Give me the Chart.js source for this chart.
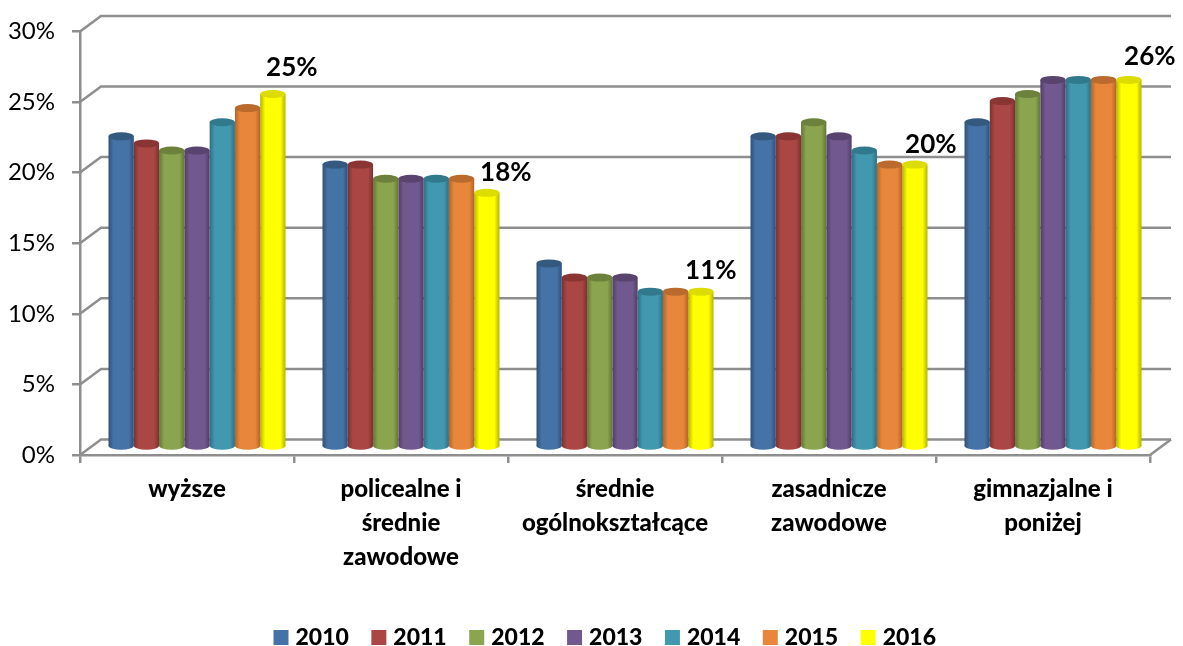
<!DOCTYPE html>
<html lang="pl">
<head>
    <meta charset="UTF-8">
    <title>Wykres</title>
    <script src="https://cdn.jsdelivr.net/npm/chart.js"></script>
    <style>
        html, body { margin: 0; background: #fff; }
        canvas { display: block; }
    </style>
</head>
<body>
    <canvas id="chart" width="1183" height="646"></canvas>
    <script>
        const categories = [
            'wyższe',
            ['policealne i', 'średnie', 'zawodowe'],
            ['średnie', 'ogólnokształcące'],
            ['zasadnicze', 'zawodowe'],
            ['gimnazjalne i', 'poniżej']
        ];
        const years = ['2010', '2011', '2012', '2013', '2014', '2015', '2016'];
        const v2010 = [22, 20, 13, 22, 23];
        const v2011 = [21.5, 20, 12, 22, 24.5];
        const v2012 = [21, 19, 12, 23, 25];
        const v2013 = [21, 19, 12, 22, 26];
        const v2014 = [23, 19, 11, 21, 26];
        const v2015 = [24, 19, 11, 20, 26];
        const v2016 = [25, 18, 11, 20, 26];
        const seriesValues = [v2010, v2011, v2012, v2013, v2014, v2015, v2016];

        const colors = ['#4573A7', '#AA4644', '#8BA54E', '#71588F', '#4198AF', '#E8873C', '#FFFF00'];
        const edgeColors = ['#2F5078', '#7A3230', '#627538', '#4F3D66', '#2E6F82', '#B4632A', '#B4B400'];
        const capColors = ['#34597F', '#8A3533', '#6C823C', '#59436F', '#317A8E', '#B96A2C', '#DCDC00'];

        const GREY = '#8E8E8E';
        const CAT_PCT = 0.827;
        const DEPTH_X = 21, DEPTH_Y = 15.5;
        const BAR_DX = 10, BAR_DY = -8;
        const FONT = 'Lato, Carlito, sans-serif';
        // the labels on the 2016 bars were placed by hand in the original
        const labelShiftX = [19, 19, 10, 16, 21];
        const labelShiftY = [-26, -20, -21, -20, -23];

        function barGradient(ctx) {
            const i = ctx.datasetIndex;
            if (ctx.type !== 'data') return colors[i];
            const scale = ctx.chart.scales.x;
            const band = scale.width / categories.length;
            const w = band * CAT_PCT / years.length;
            const left = scale.getPixelForTick(ctx.dataIndex) - band * CAT_PCT / 2 + i * w;
            const g = ctx.chart.ctx.createLinearGradient(left, 0, left + w, 0);
            g.addColorStop(0, edgeColors[i]);
            g.addColorStop(0.2, colors[i]);
            g.addColorStop(0.8, colors[i]);
            g.addColorStop(1, edgeColors[i]);
            return g;
        }

        const cylinderPlugin = {
            id: 'cylinder',
            afterLayout(chart) {
                // legend is centred under the plot, not under the whole canvas
                chart.legend.left = 64;
            },
            beforeDatasetsDraw(chart) {
                const c = chart.ctx, y = chart.scales.y, a = chart.chartArea;
                c.save();
                c.strokeStyle = GREY;
                c.lineWidth = 2.5;
                y.ticks.forEach(t => {
                    const py = y.getPixelForValue(t.value);
                    c.beginPath();
                    c.moveTo(a.left, py);
                    c.lineTo(a.left + DEPTH_X, py - DEPTH_Y);
                    c.lineTo(a.right + DEPTH_X, py - DEPTH_Y);
                    c.stroke();
                });
                // right edge of the floor
                c.beginPath();
                c.moveTo(a.right, a.bottom);
                c.lineTo(a.right + DEPTH_X, a.bottom - DEPTH_Y);
                c.stroke();
                c.restore();
                c.save();
                c.translate(BAR_DX, BAR_DY);
            },
            afterDatasetsDraw(chart) {
                const c = chart.ctx;
                chart.data.datasets.forEach((ds, i) => {
                    chart.getDatasetMeta(i).data.forEach(bar => {
                        const rx = bar.width / 2;
                        c.fillStyle = bar.options.backgroundColor;
                        c.beginPath();
                        c.ellipse(bar.x, bar.base, rx, 4, 0, 0, Math.PI * 2);
                        c.fill();
                        c.fillStyle = capColors[i];
                        c.beginPath();
                        c.ellipse(bar.x, bar.y, rx, 4, 0, 0, Math.PI * 2);
                        c.fill();
                    });
                });
                c.restore();
                // only the last year gets a value label
                const last = chart.data.datasets.length - 1;
                c.save();
                c.font = 'bold 26px ' + FONT;
                c.fillStyle = '#000';
                c.textAlign = 'center';
                c.textBaseline = 'middle';
                chart.getDatasetMeta(last).data.forEach((bar, j) => {
                    c.fillText(v2016[j] + '%', bar.x + BAR_DX + labelShiftX[j], bar.y + BAR_DY + labelShiftY[j]);
                });
                c.restore();
            }
        };

        new Chart(document.getElementById('chart'), {
            type: 'bar',
            data: {
                labels: categories,
                datasets: years.map((year, i) => ({
                    label: year,
                    data: seriesValues[i],
                    backgroundColor: barGradient
                }))
            },
            options: {
                responsive: false,
                animation: false,
                categoryPercentage: CAT_PCT,
                barPercentage: 1,
                layout: { padding: { top: 29, right: 33, bottom: -13, left: 0 } },
                plugins: {
                    tooltip: { enabled: false },
                    legend: {
                        position: 'bottom',
                        labels: {
                            boxWidth: 6,
                            boxHeight: 6,
                            padding: 27,
                            color: '#000',
                            font: { family: FONT, size: 23, weight: '900' },
                            generateLabels(chart) {
                                return years.map((year, i) => ({
                                    text: year,
                                    fillStyle: colors[i],
                                    strokeStyle: colors[i],
                                    lineWidth: 9,
                                    datasetIndex: i
                                }));
                            }
                        }
                    }
                },
                scales: {
                    x: {
                        afterFit(scale) { scale.height = 144; },
                        border: { color: GREY, width: 2.5 },
                        grid: { drawOnChartArea: false, color: GREY, lineWidth: 2.5, tickLength: 8, offset: true },
                        ticks: {
                            color: '#000',
                            maxRotation: 0,
                            autoSkip: false,
                            padding: 9,
                            font: { family: FONT, size: 24, weight: '900', lineHeight: 1.42 }
                        }
                    },
                    y: {
                        min: 0,
                        max: 30,
                        afterFit(scale) { scale.width = 80; },
                        border: { color: GREY, width: 2.5 },
                        grid: { drawOnChartArea: false, color: GREY, lineWidth: 2.5, tickLength: 8 },
                        ticks: {
                            stepSize: 5,
                            color: '#000',
                            padding: 17,
                            font: { family: FONT, size: 24 },
                            callback: v => v + '%'
                        }
                    }
                }
            },
            plugins: [cylinderPlugin]
        });
    </script>
</body>
</html>
